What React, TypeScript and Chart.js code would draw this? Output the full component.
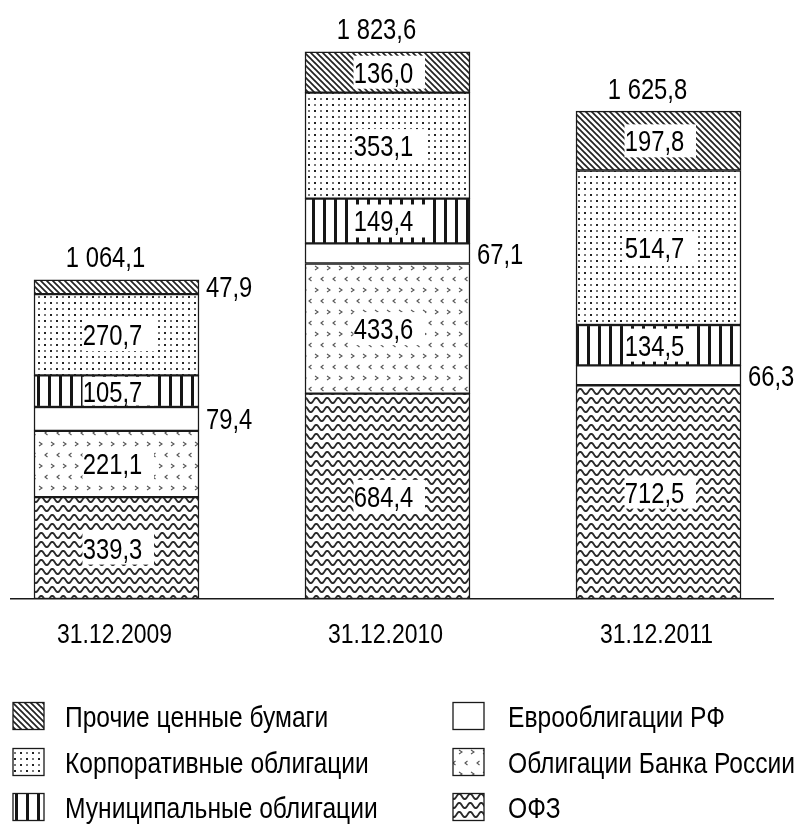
import React, { useEffect, useRef } from 'react';
import { Chart, registerables } from 'chart.js';

Chart.register(...registerables);

// ---------------- data ----------------
const CATEGORIES = ['31.12.2009', '31.12.2010', '31.12.2011'];
const OFZ = [339.3, 684.4, 712.5];
const CBR_BONDS = [221.1, 433.6, null];
const EUROBONDS = [79.4, 67.1, 66.3];
const MUNICIPAL = [105.7, 149.4, 134.5];
const CORPORATE = [270.7, 353.1, 514.7];
const OTHER = [47.9, 136.0, 197.8];

const NAME_OFZ = 'ОФЗ';
const NAME_CBR = 'Облигации Банка России';
const NAME_EURO = 'Еврооблигации РФ';
const NAME_MUNI = 'Муниципальные облигации';
const NAME_CORP = 'Корпоративные облигации';
const NAME_OTHER = 'Прочие ценные бумаги';

// stacking order: bottom -> top
const SERIES: { name: string; values: (number | null)[]; pattern: string }[] = [
  { name: NAME_OFZ, values: OFZ, pattern: 'wave' },
  { name: NAME_CBR, values: CBR_BONDS, pattern: 'cbr' },
  { name: NAME_EURO, values: EUROBONDS, pattern: 'white' },
  { name: NAME_MUNI, values: MUNICIPAL, pattern: 'vert' },
  { name: NAME_CORP, values: CORPORATE, pattern: 'dots' },
  { name: NAME_OTHER, values: OTHER, pattern: 'diag' },
];

// legend: two columns, three rows
const LEGEND_COL1 = [NAME_OTHER, NAME_CORP, NAME_MUNI];
const LEGEND_COL2 = [NAME_EURO, NAME_CBR, NAME_OFZ];

// ---------------- helpers ----------------
const FONT = "'Liberation Sans', Arial, sans-serif";
const SX = 0.82; // narrow-style horizontal compression

function fmt(v: number): string {
  const [i, d] = v.toFixed(1).split('.');
  return i.replace(/\B(?=(\d{3})+(?!\d))/g, ' ') + ',' + d;
}

function drawText(
  ctx: CanvasRenderingContext2D,
  text: string,
  x: number,
  cy: number,
  size: number,
  align: 'left' | 'center' | 'right'
) {
  ctx.save();
  ctx.font = `${size}px ${FONT}`;
  ctx.fillStyle = '#000';
  const w = ctx.measureText(text).width * SX;
  const left = align === 'left' ? x : align === 'center' ? x - w / 2 : x - w;
  ctx.translate(left, cy + 0.36 * size);
  ctx.scale(SX, 1);
  ctx.textAlign = 'left';
  ctx.textBaseline = 'alphabetic';
  ctx.fillText(text, 0, 0);
  ctx.restore();
}

function makePattern(kind: string): CanvasPattern | string {
  if (kind === 'white') return '#ffffff';
  const c = document.createElement('canvas');
  const g = c.getContext('2d')!;
  if (kind === 'diag') {
    c.width = 6; c.height = 6;
    g.fillStyle = '#fff'; g.fillRect(0, 0, 6, 6);
    g.strokeStyle = '#222'; g.lineWidth = 1.7;
    for (const x0 of [-6, 0, 6]) {
      g.beginPath(); g.moveTo(x0 - 1, -1); g.lineTo(x0 + 7, 7); g.stroke();
    }
  } else if (kind === 'dots') {
    c.width = 12; c.height = 12;
    g.fillStyle = '#fff'; g.fillRect(0, 0, 12, 12);
    g.fillStyle = '#222';
    g.fillRect(2, 2, 2, 2); g.fillRect(8, 8, 2, 2);
    g.fillStyle = '#777';
    g.fillRect(8, 2, 2, 2); g.fillRect(2, 8, 2, 2);
  } else if (kind === 'vert') {
    c.width = 11; c.height = 4;
    g.fillStyle = '#fff'; g.fillRect(0, 0, 11, 4);
    g.fillStyle = '#151515'; g.fillRect(4, 0, 3, 4);
  } else if (kind === 'cbr') {
    c.width = 24; c.height = 22;
    g.fillStyle = '#fff'; g.fillRect(0, 0, 24, 22);
    g.strokeStyle = '#555'; g.lineWidth = 1.1;
    for (const x0 of [3, 15]) {
      g.beginPath(); g.moveTo(x0, 2); g.lineTo(x0 + 3, 4); g.lineTo(x0, 6); g.stroke();
    }
    for (const x0 of [9, 21]) {
      g.beginPath(); g.moveTo(x0 + 2.5, 13); g.lineTo(x0, 15); g.lineTo(x0 + 2.5, 17); g.stroke();
    }
  } else if (kind === 'wave') {
    c.width = 11; c.height = 9;
    g.fillStyle = '#fff'; g.fillRect(0, 0, 11, 9);
    g.strokeStyle = '#2a2a2a'; g.lineWidth = 1.9;
    g.beginPath();
    for (let x = -1; x <= 12; x += 0.5) {
      const y = 4.5 + 2.7 * Math.sin((2 * Math.PI * x) / 11);
      if (x === -1) g.moveTo(x, y); else g.lineTo(x, y);
    }
    g.stroke();
  }
  return g.createPattern(c, 'repeat')!;
}

export default function App() {
  const ref = useRef<HTMLCanvasElement>(null);

  useEffect(() => {
    const canvas = ref.current!;
    const patterns: Record<string, CanvasPattern | string> = {};
    SERIES.forEach((s) => { patterns[s.name] = makePattern(s.pattern); });

    const datasets = SERIES.map((s) => ({
      label: s.name,
      data: s.values.map((v, i) => ({ x: i, y: v })),
      backgroundColor: patterns[s.name],
      borderColor: '#1a1a1a',
      borderWidth: 1.5,
      borderSkipped: false as const,
      barThickness: 165,
      stack: 'all',
    }));

    const labelsPlugin = {
      id: 'customLabels',
      afterDatasetsDraw(chart: any) {
        const ctx: CanvasRenderingContext2D = chart.ctx;
        const xs = chart.scales.x;
        const ys = chart.scales.y;
        SERIES.forEach((s, di) => {
          const meta = chart.getDatasetMeta(di);
          meta.data.forEach((el: any, i: number) => {
            const v = s.values[i];
            if (v == null) return;
            const p = el.getProps(['x', 'y', 'base', 'width'], true);
            const top = Math.min(p.y, p.base);
            const bottom = Math.max(p.y, p.base);
            const h = bottom - top;
            const cy = (top + bottom) / 2;
            const label = fmt(v);
            if (h < 28) {
              drawText(ctx, label, p.x + p.width / 2 + 7, cy, 29, 'left');
            } else {
              const bh = Math.min(33, h - 3);
              ctx.save();
              ctx.fillStyle = '#fff';
              ctx.fillRect(p.x - 34, cy - bh / 2, 71.5, bh);
              ctx.restore();
              drawText(ctx, label, p.x - 4, cy, 29, 'center');
            }
          });
        });
        CATEGORIES.forEach((cat, i) => {
          let total = 0;
          SERIES.forEach((s) => { total += s.values[i] ?? 0; });
          const xp = xs.getPixelForValue(i);
          const yp = ys.getPixelForValue(total);
          drawText(ctx, fmt(total), xp - 11, yp - 23, 29, 'center');
          drawText(ctx, cat, xp - 2, xs.bottom + 34, 28, 'center');
        });
      },
      afterDraw(chart: any) {
        const ctx: CanvasRenderingContext2D = chart.ctx;
        const cols = [
          { names: LEGEND_COL1, boxX: 13, textX: 65 },
          { names: LEGEND_COL2, boxX: 453, textX: 508 },
        ];
        const rowsY = [716, 762, 807];
        cols.forEach((col) => {
          col.names.forEach((name, r) => {
            const cy = rowsY[r];
            ctx.save();
            ctx.fillStyle = patterns[name] as any;
            ctx.fillRect(col.boxX, cy - 13.5, 31, 27);
            ctx.strokeStyle = '#1a1a1a';
            ctx.lineWidth = 1.3;
            ctx.strokeRect(col.boxX, cy - 13.5, 31, 27);
            ctx.restore();
            drawText(ctx, name, col.textX, cy, 30, 'left');
          });
        });
      },
    };

    const chart = new Chart(canvas, {
      type: 'bar',
      data: { datasets } as any,
      options: {
        animation: false,
        responsive: false,
        devicePixelRatio: 1,
        layout: { padding: { left: 11, right: 25, top: 10, bottom: 226 } },
        plugins: { legend: { display: false }, tooltip: { enabled: false } },
        scales: {
          x: {
            type: 'linear',
            stacked: true,
            min: -0.3893,
            max: 2.4225,
            offset: false,
            afterBuildTicks: (scale: any) => {
              scale.ticks = CATEGORIES.map((_, i) => ({ value: i }));
            },
            ticks: { display: false },
            grid: { display: false, drawTicks: false },
            border: { display: true, color: '#1a1a1a', width: 1.5 },
          },
          y: {
            stacked: true,
            min: 0,
            max: 1963,
            display: false,
          },
        },
      } as any,
      plugins: [labelsPlugin],
    });
    return () => chart.destroy();
  }, []);

  return (
    <canvas
      ref={ref}
      width={798}
      height={825}
      style={{ position: 'fixed', left: 0, top: 0, width: 798, height: 825, background: '#fff' }}
    />
  );
}
